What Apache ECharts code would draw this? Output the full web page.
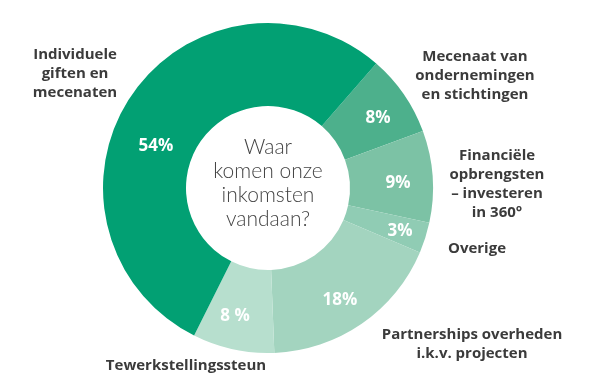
<!DOCTYPE html>
<html>
<head>
<meta charset="utf-8">
<script src="https://cdn.jsdelivr.net/npm/echarts@6/dist/echarts.min.js"></script>
<style>html,body{margin:0;padding:0;background:#fff}#c{width:600px;height:379px}</style>
</head>
<body>
<div id="c"></div>
<script>
// Data
var categories = [
  'Mecenaat van\nondernemingen\nen stichtingen',
  'Financiële\nopbrengsten\n– investeren\nin 360°',
  'Overige',
  'Partnerships overheden\ni.k.v. projecten',
  'Tewerkstellingssteun',
  'Individuele\ngiften en\nmecenaten'
];
var values = [8, 9, 3, 18, 8, 54];
var valueLabels = ['8%', '9%', '3%', '18%', '8 %', '54%'];
var centerTitle = 'Waar\nkomen onze\ninkomsten\nvandaan?';

// Styles / layout (kept apart from data)
var colors = ['#4DB08C', '#7CC2A5', '#90CCB4', '#A3D4BF', '#B7DFCE', '#02A073'];
var pctPos = [[378,118],[398,183],[400,231],[340,300],[235,316],[156,146]];
var namePos = [[475,76],[497,184],[477,249],[472,344],[186,366],[75,74]];

var chart = echarts.init(document.getElementById('c'), null, {renderer: 'canvas'});
var pieData = values.map(function (v, i) {
  return { name: categories[i], value: v, itemStyle: { color: colors[i] } };
});
var ghostData = values.map(function (v, i) {
  return { name: categories[i], value: v, itemStyle: { color: 'rgba(0,0,0,0)' } };
});
chart.setOption({
  animation: false,
  backgroundColor: '#ffffff',
  series: [
    {
      type: 'pie',
      center: [268, 188],
      radius: [82, 165],
      startAngle: 49,
      clockwise: true,
      silent: true,
      data: pieData,
      itemStyle: { borderWidth: 0 },
      label: {
        show: true,
        position: 'inside',
        formatter: function (p) { return valueLabels[p.dataIndex]; },
        color: '#ffffff',
        fontFamily: 'Open Sans',
        fontWeight: 'bold',
        fontSize: 17,
        overflow: 'none'
      },
      labelLine: { show: false },
      labelLayout: function (p) {
        return { x: pctPos[p.dataIndex][0], y: pctPos[p.dataIndex][1], align: 'center', verticalAlign: 'middle' };
      }
    },
    {
      type: 'pie',
      center: [268, 188],
      radius: [82, 165],
      startAngle: 49,
      clockwise: true,
      silent: true,
      data: ghostData,
      label: {
        show: true,
        position: 'outside',
        formatter: function (p) { return p.name; },
        color: '#3b3b3b',
        fontFamily: 'Open Sans',
        fontWeight: 'bold',
        fontSize: 15,
        lineHeight: 19,
        align: 'center',
        overflow: 'none',
        width: 300
      },
      labelLine: { show: false },
      labelLayout: function (p) {
        return { x: namePos[p.dataIndex][0], y: namePos[p.dataIndex][1], align: 'center', verticalAlign: 'middle' };
      }
    }
  ],
  graphic: [
    {
      type: 'text',
      x: 268,
      y: 183,
      style: {
        text: centerTitle,
        fill: '#444444',
        font: '300 21px Lato',
        lineHeight: 24,
        align: 'center',
        verticalAlign: 'middle'
      }
    }
  ]
});
</script>
</body>
</html>
